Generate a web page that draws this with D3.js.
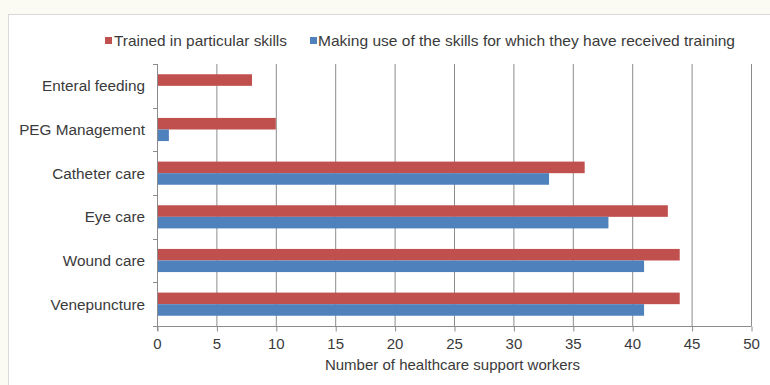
<!DOCTYPE html>
<html><head><meta charset="utf-8">
<script src="https://cdn.jsdelivr.net/npm/d3@7"></script>
<style>
html,body{margin:0;padding:0;background:#fbfbf4;}
svg{display:block;font-family:"Liberation Sans",Arial,sans-serif;}
</style></head>
<body>
<svg id="chart" width="770" height="385"></svg>
<script>
const categories = ["Enteral feeding","PEG Management","Catheter care","Eye care","Wound care","Venepuncture"];
const seriesNames = ["Trained in particular skills","Making use of the skills for which they have received training"];
const trained = [8,10,36,43,44,44];
const using = [0,1,33,38,41,41];
const xTicks = [0,5,10,15,20,25,30,35,40,45,50];
const xTitle = "Number of healthcare support workers";
const colors = ["#c0504d","#4f81bd"];

(function(){
const svg = d3.select("#chart");
const txt = "#3a3a3a";
svg.append("rect").attr("x",8.5).attr("y",14.5).attr("width",770).attr("height",380)
  .attr("fill","#ffffff").attr("stroke","#d9d9d9");

const pLeft = 157, pRight = 751, pTop = 64, pBottom = 326;
const x = d3.scaleLinear().domain([0,50]).range([pLeft,pRight]);
const y = d3.scaleBand().domain(categories).range([pTop,pBottom]).padding(0);
const barH = y.bandwidth()*0.265;
const sub = d3.scaleBand().domain([0,1]).range([-barH, barH]);

// gridlines
svg.append("g").selectAll("line").data(xTicks.filter(d=>d>0)).join("line")
  .attr("x1",d=>x(d)+0.5).attr("x2",d=>x(d)+0.5).attr("y1",pTop).attr("y2",pBottom)
  .attr("stroke","#8c8c8c").attr("stroke-width",1);

// bars
const data = [trained, using];
data.forEach((vals,si)=>{
  svg.append("g").selectAll("rect").data(categories).join("rect")
    .attr("x",x(0)+1)
    .attr("y",(c)=>y(c)+y.bandwidth()/2+sub(si))
    .attr("width",(c,i)=>Math.max(0,x(vals[i])-x(0)-1))
    .attr("height",barH)
    .attr("fill",colors[si]);
});

// x axis
const xAxis = d3.axisBottom(x).tickValues(xTicks).tickSize(5).tickPadding(7);
const gx = svg.append("g").attr("transform",`translate(0,${pBottom+0.5})`).call(xAxis);
gx.select(".domain").attr("stroke","#8c8c8c").attr("d",`M${pLeft+0.5},0H${pRight+0.5}`);
gx.selectAll(".tick line").attr("stroke","#8c8c8c").attr("transform","translate(0.5,0)");
gx.selectAll(".tick text").attr("fill",txt).attr("font-size",15).attr("font-family","Liberation Sans, Arial, sans-serif");

// y axis line and boundary ticks
svg.append("line").attr("x1",pLeft+0.5).attr("x2",pLeft+0.5).attr("y1",pTop).attr("y2",pBottom+5)
  .attr("stroke","#8c8c8c");
const bounds = categories.map(c=>y(c)).concat([y(categories[categories.length-1])+y.bandwidth()]);
svg.append("g").selectAll("line").data(bounds).join("line")
  .attr("x1",pLeft-4).attr("x2",pLeft+0.5).attr("y1",d=>Math.round(d)+0.5).attr("y2",d=>Math.round(d)+0.5)
  .attr("stroke","#8c8c8c");

svg.append("g").selectAll("text").data(categories).join("text")
  .attr("x",pLeft-12).attr("y",c=>y(c)+y.bandwidth()/2)
  .attr("dy","0.35em").attr("text-anchor","end")
  .attr("font-size",15.3).attr("fill",txt).text(c=>c);

// axis title
svg.append("text").attr("x",(323+582)/2).attr("y",370).attr("text-anchor","middle")
  .attr("font-size",15).attr("fill",txt).text(xTitle);

// legend
const legX = [105,310], legTextX = [114,318], legW = [173,417];
seriesNames.forEach((n,i)=>{
  svg.append("rect").attr("x",legX[i]).attr("y",37).attr("width",7).attr("height",7).attr("fill",colors[i]);
  svg.append("text").attr("x",legTextX[i]).attr("y",45.5).attr("font-size",14.5).attr("fill",txt)
    .attr("textLength",legW[i]).attr("lengthAdjust","spacingAndGlyphs").text(n);
});
})();
</script>
</body></html>
